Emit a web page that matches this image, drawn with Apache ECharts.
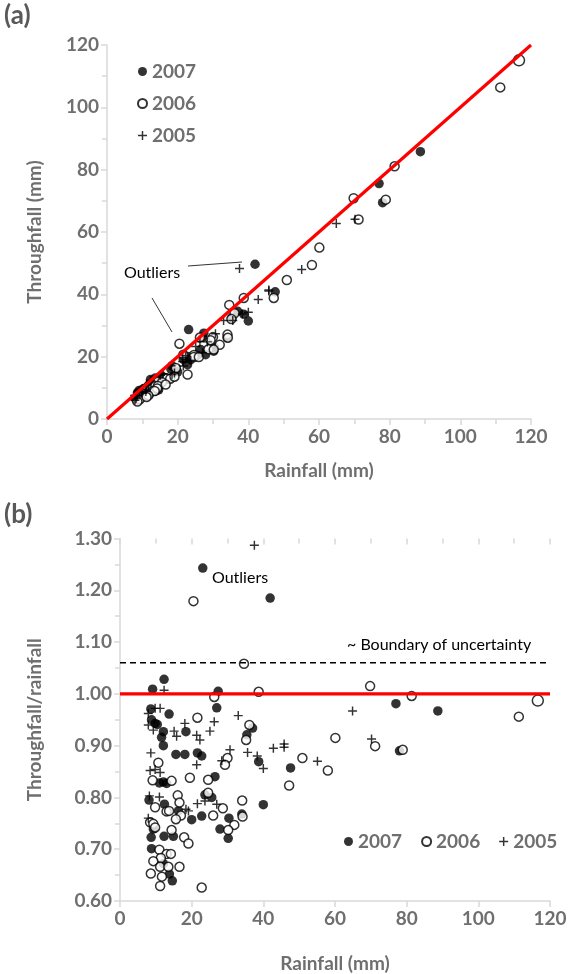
<!DOCTYPE html>
<html>
<head>
<meta charset="utf-8">
<script src="https://cdn.jsdelivr.net/npm/echarts@6.0.0/dist/echarts.min.js"></script>
<style>
html, body { margin: 0; background: #fff; }
#chart { width: 571px; height: 974px; }
</style>
</head>
<body>
<div id="chart"></div>
<script>
// values: rainfall (mm) and throughfall/rainfall ratio
const rain2007 = [41.9, 23.1, 12.3, 9.1, 27.4, 27.0, 8.6, 13.7, 8.8, 9.8, 10.4, 12.1, 18.4, 37.0, 11.6, 12.1, 35.4,
  15.6, 18.1, 21.6, 22.8, 38.7, 11.0, 12.1, 13.0, 26.5, 47.6, 40.0, 8.1, 12.4, 16.3, 23.7, 25.6, 34.0, 22.8, 20.0,
  30.4, 27.9, 30.2, 9.3, 8.7, 12.3, 14.9, 8.8, 12.1, 13.8, 14.6, 77.0, 88.7, 78.0];
const ratio2007 = [1.185, 1.243, 1.028, 1.009, 1.005, 0.973, 0.971, 0.961, 0.950, 0.943, 0.941, 0.927, 0.927, 0.934,
  0.916, 0.900, 0.921, 0.883, 0.883, 0.886, 0.880, 0.869, 0.828, 0.830, 0.827, 0.840, 0.857, 0.786, 0.795, 0.787,
  0.774, 0.805, 0.800, 0.768, 0.764, 0.757, 0.760, 0.739, 0.721, 0.739, 0.723, 0.725, 0.725, 0.701, 0.672, 0.652,
  0.639, 0.981, 0.967, 0.890];

const rain2006 = [20.5, 34.6, 26.3, 38.7, 21.6, 36.1, 35.2, 30.0, 10.7, 29.3, 9.1, 14.4, 19.5, 24.6, 47.2, 9.8, 13.0,
  13.7, 16.1, 16.6, 17.0, 15.6, 24.6, 28.7, 34.1, 34.2, 26.0, 31.9, 30.2, 8.4, 9.3, 9.8, 14.4, 17.9, 19.1, 11.0,
  13.0, 14.2, 11.4, 9.3, 11.2, 13.5, 16.6, 8.6, 11.7, 11.2, 22.8, 69.8, 81.4, 111.3, 116.6, 60.1, 71.2, 78.9, 50.9, 58.0];
const ratio2006 = [1.179, 1.058, 0.994, 1.004, 0.954, 0.940, 0.911, 0.876, 0.867, 0.863, 0.833, 0.832, 0.838, 0.834,
  0.823, 0.781, 0.773, 0.774, 0.804, 0.790, 0.765, 0.758, 0.809, 0.779, 0.794, 0.763, 0.765, 0.747, 0.737, 0.752,
  0.749, 0.742, 0.737, 0.723, 0.711, 0.699, 0.691, 0.691, 0.683, 0.677, 0.666, 0.666, 0.666, 0.653, 0.647, 0.629,
  0.626, 1.015, 0.996, 0.956, 0.987, 0.915, 0.899, 0.892, 0.876, 0.852];

const rain2005 = [37.5, 12.3, 7.9, 9.8, 11.2, 33.0, 7.9, 9.3, 18.1, 26.3, 15.1, 15.8, 21.4, 22.3, 25.1, 42.8, 8.6,
  30.7, 35.6, 38.3, 28.4, 21.4, 8.4, 9.8, 11.2, 40.0, 8.2, 11.0, 18.4, 19.1, 21.6, 23.7, 27.0, 7.9, 64.9, 45.8,
  45.8, 70.2, 55.1];
const ratio2005 = [1.287, 1.007, 0.962, 0.972, 0.972, 0.958, 0.940, 0.930, 0.943, 0.946, 0.928, 0.918, 0.920, 0.911,
  0.928, 0.895, 0.886, 0.892, 0.887, 0.880, 0.871, 0.863, 0.852, 0.854, 0.848, 0.856, 0.803, 0.801, 0.777, 0.774,
  0.788, 0.793, 0.787, 0.760, 0.967, 0.903, 0.897, 0.913, 0.870];

const years = ['2007', '2006', '2005'];
const uncertaintyBound = 1.06;
const xTicks = { min: 0, max: 120, interval: 20 };
const yTicksA = { min: 0, max: 120, interval: 20 };
const yTicksB = { min: 0.6, max: 1.3, interval: 0.1 };

const gray = '#6f6f6f';
const axisCol = '#d9d9d9';
const font = 'Lato, "Open Sans", sans-serif';
const plusPath = 'path://M0,3.35H8V4.65H0Z M3.35,0H4.65V8H3.35Z';

// panel (a) throughfall is rainfall times the ratio
const pairsA = (rain, ratio) => rain.map((r, i) => [r, +(r * ratio[i]).toFixed(2)]);
const pairsB = (rain, ratio) => rain.map((r, i) => [r, ratio[i]]);

const labelStyle = { color: gray, fontFamily: font, fontWeight: 'bold', fontSize: 19 };

function mainAxis(grid, ticks, extra) {
  return Object.assign({
    type: 'value', gridIndex: grid, min: ticks.min, max: ticks.max, interval: ticks.interval,
    axisLine: { show: true, onZero: false, lineStyle: { color: axisCol, width: 1.5 } },
    axisTick: { show: true, length: 6, lineStyle: { color: axisCol, width: 1.5 } },
    axisLabel: Object.assign({ margin: 8 }, labelStyle),
    splitLine: { show: false },
    nameLocation: 'middle',
    nameTextStyle: labelStyle
  }, extra);
}
function minorAxis(grid, ticks) {
  return {
    type: 'value', gridIndex: grid, min: ticks.min, max: ticks.max, interval: ticks.interval,
    axisLine: { show: false },
    axisTick: { show: true, inside: true, length: 6, lineStyle: { color: axisCol, width: 1.5 } },
    minorTick: { show: true, splitNumber: 2, length: 5, lineStyle: { color: axisCol, width: 1.5 } },
    axisLabel: { show: false },
    splitLine: { show: false }
  };
}

const styles = {
  '2007': { symbol: 'circle', symbolSize: 9.5, itemStyle: { color: '#000' } },
  '2006': { symbol: 'circle', symbolSize: (v) => v[0] > 115 ? 11 : 9,
            itemStyle: { color: '#fff', borderColor: '#000', borderWidth: 1.5 } },
  '2005': { symbol: plusPath, symbolSize: 9, itemStyle: { color: '#000' } }
};

function scatter(name, grid, data) {
  return Object.assign({
    name, type: 'scatter', xAxisIndex: grid * 2, yAxisIndex: grid * 2, data, silent: true
  }, styles[name]);
}

const chart = echarts.init(document.getElementById('chart'), null, { renderer: 'canvas' });
chart.setOption({
  animation: false,
  backgroundColor: '#fff',
  grid: [
    { left: 107, right: 40, top: 45, height: 374 },
    { left: 120, right: 21, top: 538.5, height: 366 }
  ],
  xAxis: [
    mainAxis(0, xTicks, { name: 'Rainfall (mm)', nameGap: 42 }),
    minorAxis(0, xTicks),
    mainAxis(1, xTicks, { name: 'Rainfall (mm)', nameGap: 53 }),
    minorAxis(1, xTicks)
  ],
  yAxis: [
    mainAxis(0, yTicksA, { name: 'Throughfall (mm)', nameGap: 63 }),
    minorAxis(0, yTicksA),
    mainAxis(1, yTicksB, { name: 'Throughfall/rainfall', nameGap: 76,
      axisLabel: Object.assign({ margin: 8, formatter: (v) => v.toFixed(2) }, labelStyle) }),
    minorAxis(1, yTicksB)
  ],
  legend: [
    {
      orient: 'vertical', left: 132, top: 57, itemGap: 13, itemWidth: 9, itemHeight: 9,
      textStyle: labelStyle, data: years, selectedMode: false
    },
    {
      orient: 'horizontal', left: 339, top: 827, itemGap: 19, itemWidth: 9, itemHeight: 9,
      textStyle: labelStyle, data: years, selectedMode: false
    }
  ],
  series: [
    {
      type: 'line', xAxisIndex: 0, yAxisIndex: 0, data: [[0, 0], [120, 120]], symbol: 'none', silent: true,
      lineStyle: { color: '#ff0000', width: 3.2 }
    },
    {
      type: 'line', xAxisIndex: 2, yAxisIndex: 2, data: [[0, 1], [120, 1]], symbol: 'none', silent: true,
      lineStyle: { color: '#ff0000', width: 3.2 }
    },
    {
      type: 'line', xAxisIndex: 2, yAxisIndex: 2, data: [[0, uncertaintyBound], [120, uncertaintyBound]],
      symbol: 'none', silent: true, lineStyle: { color: '#000', width: 1.6, type: [6, 4] }
    },
    scatter('2007', 0, pairsA(rain2007, ratio2007)),
    scatter('2006', 0, pairsA(rain2006, ratio2006)),
    scatter('2005', 0, pairsA(rain2005, ratio2005)),
    scatter('2007', 1, pairsB(rain2007, ratio2007)),
    scatter('2006', 1, pairsB(rain2006, ratio2006)),
    scatter('2005', 1, pairsB(rain2005, ratio2005))
  ],
  graphic: [
    { type: 'text', left: 4, top: 3, style: { text: '(a)', fill: '#595959', font: 'bold 26px ' + font } },
    { type: 'text', left: 4, top: 502, style: { text: '(b)', fill: '#595959', font: 'bold 26px ' + font } },
    { type: 'text', left: 124, top: 265, style: { text: 'Outliers', fill: '#000', font: '16px ' + font } },
    { type: 'line', shape: { x1: 188, y1: 266, x2: 242, y2: 262 }, style: { stroke: '#000', lineWidth: 0.8 } },
    { type: 'line', shape: { x1: 152, y1: 298, x2: 172, y2: 332 }, style: { stroke: '#000', lineWidth: 0.8 } },
    { type: 'text', left: 212, top: 570, style: { text: 'Outliers', fill: '#000', font: '16px ' + font } },
    { type: 'text', left: 347, top: 637, style: { text: '~ Boundary of uncertainty', fill: '#000', font: '16px ' + font } }
  ]
});
</script>
</body>
</html>
